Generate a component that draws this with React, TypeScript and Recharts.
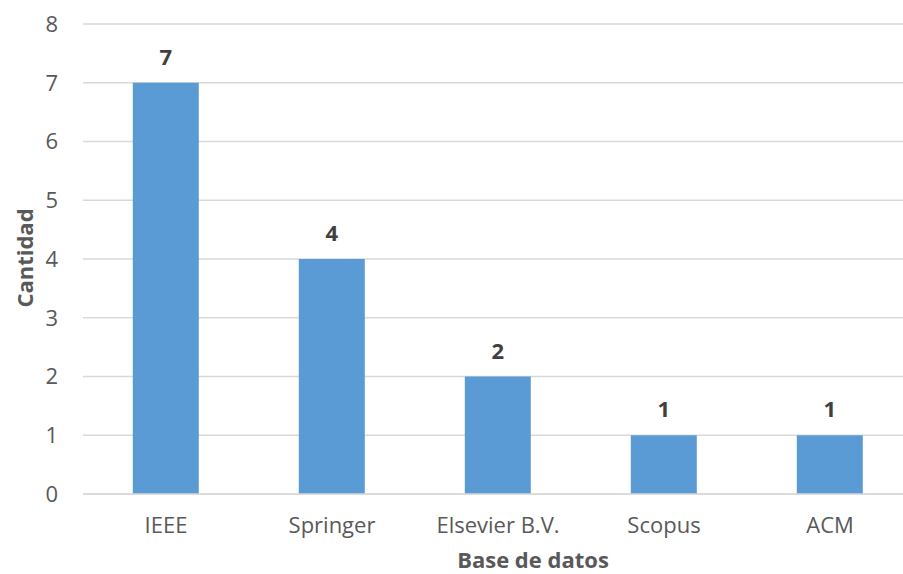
import React from "react";
import { BarChart, Bar, XAxis, YAxis, CartesianGrid, LabelList, Label } from "recharts";

const categories = ["IEEE", "Springer", "Elsevier B.V.", "Scopus", "ACM"];
const values = [7, 4, 2, 1, 1];
const yTicks = [0, 1, 2, 3, 4, 5, 6, 7, 8];

const data = categories.map((c, i) => ({ name: c, value: values[i] }));

const FONT = "'Open Sans', Lato, sans-serif";
const GRAY = "#595959";

export default function App() {
  return (
    <div style={{ position: "absolute", left: 0, top: 0, width: 903, height: 574, overflow: "hidden", background: "#fff" }}>
      <BarChart
        width={920}
        height={574}
        data={data}
        margin={{ top: 24, right: 7, bottom: 50, left: 0 }}
        barCategoryGap="30%"
      >
        <CartesianGrid vertical={false} stroke="#D9D9D9" strokeWidth={1.5} />
        <XAxis
          dataKey="name"
          height={30}
          tickLine={false}
          tickSize={0}
          tickMargin={23}
          axisLine={{ stroke: "#D9D9D9", strokeWidth: 1.5 }}
          tick={{ fill: GRAY, fontSize: 22, fontFamily: FONT }}
          interval={0}
        >
          <Label
            content={() => (
              <text x={533} y={568} textAnchor="middle" fill={GRAY} fontSize={22} fontWeight="bold" fontFamily={FONT}>
                Base de datos
              </text>
            )}
          />
        </XAxis>
        <YAxis
          width={83}
          domain={[0, 8]}
          ticks={yTicks}
          tickLine={false}
          tickSize={0}
          tickMargin={25}
          axisLine={false}
          tick={{ fill: GRAY, fontSize: 22, fontFamily: FONT }}
        >
          <Label
            content={() => (
              <text x={33} y={258} transform="rotate(-90 33 258)" textAnchor="middle" fill={GRAY} fontSize={22} fontWeight="bold" fontFamily={FONT}>
                Cantidad
              </text>
            )}
          />
        </YAxis>
        <Bar dataKey="value" fill="#5B9BD5" isAnimationActive={false}>
          <LabelList dataKey="value" position="top" offset={18} fill="#404040" fontSize={22} fontWeight="bold" fontFamily={FONT} />
        </Bar>
      </BarChart>
    </div>
  );
}
